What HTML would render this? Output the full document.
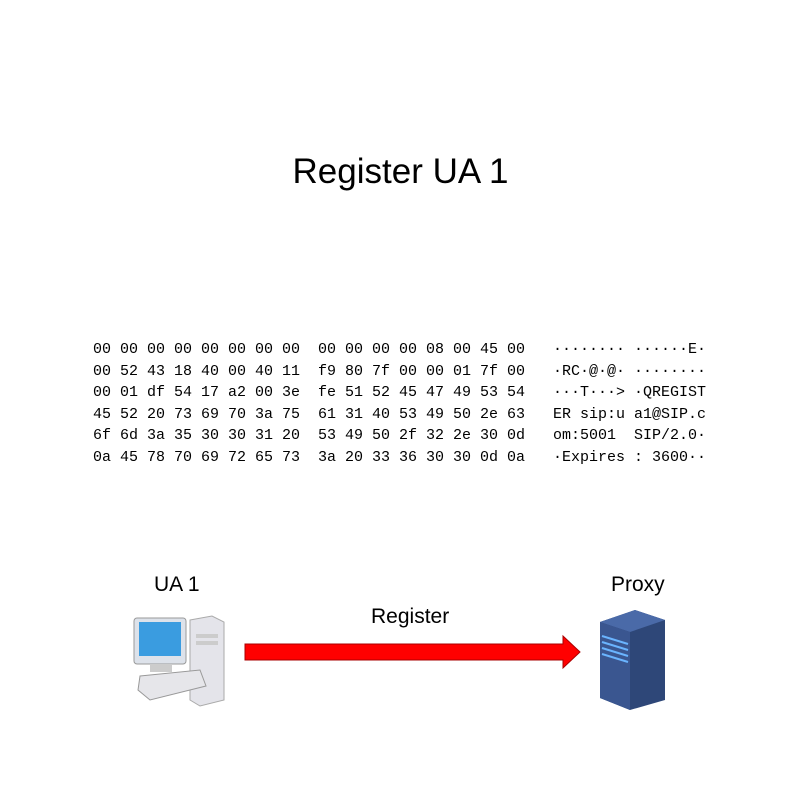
<!DOCTYPE html>
<html><head><meta charset="utf-8"><style>
body{margin:0;width:801px;height:785px;background:#fff;position:relative;overflow:hidden;font-family:"Liberation Sans",sans-serif;}
.t{position:absolute;white-space:pre;color:#000;}
.mono{font-family:"Liberation Mono","DejaVu Sans Mono",monospace;font-size:15px;line-height:21.5px;}
</style></head><body>
<div class="t" style="left:0;width:801px;text-align:center;top:152px;font-size:35px;">Register UA 1</div>
<div class="t mono" style="left:93px;top:339px;">00 00 00 00 00 00 00 00
00 52 43 18 40 00 40 11
00 01 df 54 17 a2 00 3e
45 52 20 73 69 70 3a 75
6f 6d 3a 35 30 30 31 20
0a 45 78 70 69 72 65 73</div>
<div class="t mono" style="left:318px;top:339px;">00 00 00 00 08 00 45 00
f9 80 7f 00 00 01 7f 00
fe 51 52 45 47 49 53 54
61 31 40 53 49 50 2e 63
53 49 50 2f 32 2e 30 0d
3a 20 33 36 30 30 0d 0a</div>
<div class="t mono" style="left:553px;top:339px;">········ ······E·
·RC·@·@· ········
···T···&gt; ·QREGIST
ER sip:u a1@SIP.c
om:5001  SIP/2.0·
·Expires : 3600··</div>
<div class="t" style="left:154px;top:573px;font-size:21px;">UA 1</div>
<div class="t" style="left:611px;top:573px;font-size:21px;">Proxy</div>
<div class="t" style="left:371px;top:605px;font-size:21px;">Register</div>
<svg width="801" height="785" style="position:absolute;left:0;top:0">
<polygon points="245,644 563,644 563,636 580,652 563,668 563,660 245,660" fill="#f00" stroke="#a00" stroke-width="1"/>
<polygon points="190,620 212,616 224,622 224,700 200,706 190,700" fill="#e4e4ea" stroke="#aaa"/>
<rect x="196" y="634" width="22" height="4" fill="#ccc"/>
<rect x="196" y="641" width="22" height="4" fill="#ccc"/>
<rect x="134" y="618" width="52" height="46" rx="3" fill="#dde2ea" stroke="#999"/>
<rect x="139" y="622" width="42" height="34" fill="#3a9ce0"/>
<rect x="150" y="664" width="22" height="8" fill="#ccc"/>
<polygon points="140,676 200,670 206,686 150,700 138,690" fill="#e6e6ea" stroke="#999"/>
<polygon points="600,622 635,610 665,620 665,700 630,710 600,698" fill="#2e4778"/>
<polygon points="600,622 635,610 665,620 630,632" fill="#4a6aa8"/>
<polygon points="600,622 630,632 630,710 600,698" fill="#3a5690"/>
<g stroke="#6ab4ff" stroke-width="2">
<line x1="602" y1="636" x2="628" y2="644"/><line x1="602" y1="642" x2="628" y2="650"/>
<line x1="602" y1="648" x2="628" y2="656"/><line x1="602" y1="654" x2="628" y2="662"/>
</g>
</svg>
</body></html>
